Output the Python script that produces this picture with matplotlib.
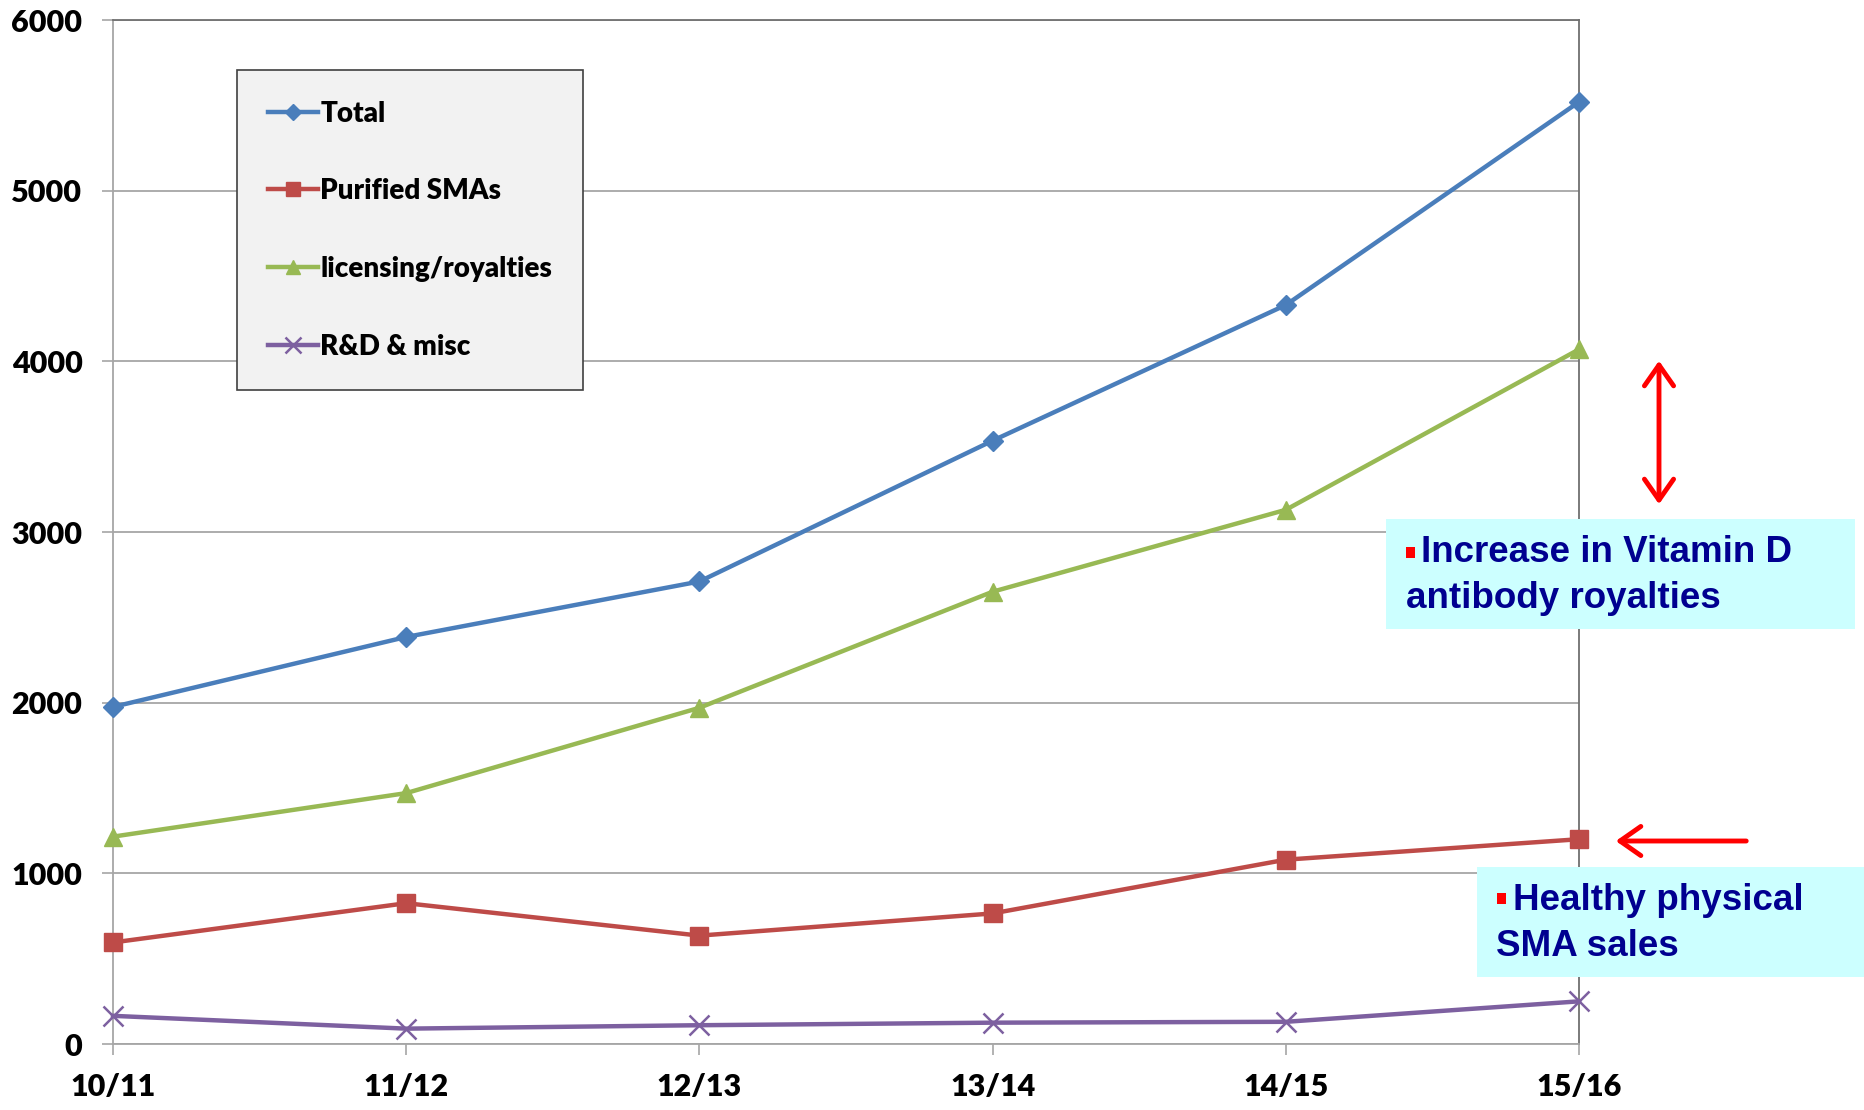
import matplotlib.pyplot as plt
from matplotlib.patches import Rectangle, FancyArrowPatch

periods = ["10/11", "11/12", "12/13", "13/14", "14/15", "15/16"]
total = [1975, 2385, 2710, 3535, 4330, 5520]
purified = [595, 825, 635, 765, 1080, 1200]
licensing = [1215, 1470, 1970, 2650, 3130, 4070]
rnd = [165, 90, 110, 125, 130, 250]

W, H = 1865, 1110


def px(x, y):
    # full-size pixel position -> figure fraction
    return x / W, 1 - y / H


fig = plt.figure(figsize=(W / 100, H / 100), dpi=100)
l, b = px(113, 1044)
r, t = px(1579, 20)
ax = fig.add_axes([l, b, r - l, t - b])

xs = range(len(periods))
lw = 3.2
ax.plot(xs, total, color="#4A7EBB", lw=lw, marker="D", ms=10, label="Total", clip_on=False, zorder=5)
ax.plot(xs, purified, color="#BE4B48", lw=lw, marker="s", ms=13, label="Purified SMAs", clip_on=False, zorder=5)
ax.plot(xs, licensing, color="#98B954", lw=lw, marker="^", ms=13, label="licensing/royalties", clip_on=False, zorder=5)
ax.plot(xs, rnd, color="#7D60A0", lw=lw, marker="x", ms=14, mew=1.8, label="R&D & misc", clip_on=False, zorder=5)

ax.set_xlim(0, 5)
ax.set_ylim(0, 6000)
ax.set_yticks(range(0, 6001, 1000))
ax.set_xticks(list(xs))
ax.set_xticklabels(periods)
ax.yaxis.grid(True, color="#A6A6A6", lw=1.3)
ax.set_axisbelow(True)

for lab in ax.get_xticklabels() + ax.get_yticklabels():
    lab.set_fontfamily("Lato")
    lab.set_fontweight("heavy")
    lab.set_fontsize(22)
ax.tick_params(axis="both", length=8, width=1.2, color="#A6A6A6")
ax.tick_params(axis="y", pad=14)
ax.tick_params(axis="x", pad=13)
for s in ["left", "bottom"]:
    ax.spines[s].set_color("#A6A6A6")
    ax.spines[s].set_linewidth(1.3)
for s in ["top", "right"]:
    ax.spines[s].set_color("#707070")
    ax.spines[s].set_linewidth(1.3)

lx, ly = px(237, 70)
leg = ax.legend(loc="upper left", bbox_to_anchor=(lx, ly), bbox_transform=fig.transFigure,
                prop=dict(family="Lato", weight="heavy", size=20), frameon=True, fancybox=False,
                handlelength=1.8, handletextpad=0.1, labelspacing=1.86, borderpad=1.1,
                borderaxespad=0, markerscale=0.8)
leg.get_frame().set_facecolor("#F2F2F2")
leg.get_frame().set_edgecolor("#404040")
leg.get_frame().set_linewidth(1.2)
leg.get_frame().set_alpha(1)

# annotation boxes
navy = "#000090"
for (x0, y0, x1, y1) in [(1386, 519, 1855, 629), (1477, 867, 1865, 977)]:
    fx0, fy1 = px(x0, y1)
    fx1, fy0 = px(x1, y0)
    fig.patches.append(Rectangle((fx0, fy1), fx1 - fx0, fy0 - fy1, transform=fig.transFigure,
                                 facecolor="#CCFFFF", edgecolor="none", zorder=3))

txt = dict(family="Liberation Sans", weight="bold", size=26.5, color=navy, va="center", ha="left", zorder=4)
fig.text(*px(1421, 553), "Increase in Vitamin D", **txt)
fig.text(*px(1406, 598), "antibody royalties", **txt)
fig.text(*px(1513, 900), "Healthy physical", **txt)
fig.text(*px(1496, 946), "SMA sales", **txt)

for (bx, by) in [(1409, 552), (1500, 898)]:
    fx, fy = px(bx - 3, by + 6)
    fig.patches.append(Rectangle((fx, fy), 9 / W, 11 / H, transform=fig.transFigure,
                                 facecolor="red", edgecolor="none", zorder=5))

# red arrows
fig.patches.append(FancyArrowPatch(px(1659, 358), px(1659, 507), transform=fig.transFigure,
                                   arrowstyle="<->,head_length=10,head_width=7", color="red", lw=3.5,
                                   mutation_scale=1.5))
fig.patches.append(FancyArrowPatch(px(1749, 841), px(1613, 841), transform=fig.transFigure,
                                   arrowstyle="->,head_length=10,head_width=7", color="red", lw=3.5,
                                   mutation_scale=1.5))

fig.savefig("out.png", dpi=100)
